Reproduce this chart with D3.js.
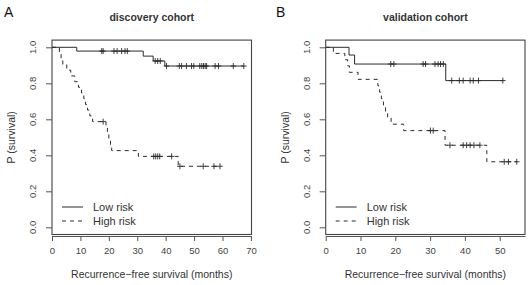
<!DOCTYPE html>
<html><head><meta charset="utf-8">
<script src="https://cdn.jsdelivr.net/npm/d3@7"></script>
<style>
body{margin:0;background:#fff;}
svg{display:block;font-family:"Liberation Sans",Arial,Helvetica,sans-serif;}
</style></head><body>
<svg id="chart" width="528" height="285"></svg>
<script>
// ---- data ----
const panelLetters = ["A", "B"];
const panelTitles = ["discovery cohort", "validation cohort"];
const xTicksA = [0, 10, 20, 30, 40, 50, 60, 70];
const xTicksB = [0, 10, 20, 30, 40, 50];
const yTicks = [0.0, 0.2, 0.4, 0.6, 0.8, 1.0];
const legendLabels = ["Low risk", "High risk"];

// discovery cohort
const timesLowA = [8.7, 32.1, 35.6, 39.7];
const survLowA  = [0.979, 0.951, 0.924, 0.896];
const censLowA  = [17.5, 18.0, 21.8, 22.9, 24.5, 25.7, 26.5, 36.3, 37.2, 38.1, 40.3, 44.8, 45.6, 47.3, 49.1, 49.9, 52.0, 52.7, 53.3, 53.9, 54.4, 57.4, 58.6, 63.8, 67.5];
const timesHighA = [2.6, 3.2, 3.8, 5.2, 6.6, 8.0, 9.3, 10.4, 11.2, 11.8, 12.5, 13.3, 14.3, 19.0, 19.5, 20.0, 20.6, 21.0, 30.4, 44.4];
const survHighA  = [0.968, 0.936, 0.905, 0.873, 0.841, 0.809, 0.778, 0.746, 0.714, 0.682, 0.651, 0.619, 0.587, 0.554, 0.521, 0.489, 0.457, 0.426, 0.394, 0.339];
const censHighA  = [18.0, 35.8, 36.5, 37.2, 37.9, 42.1, 45.0, 53.2, 57.0, 59.1];

// validation cohort
const timesLowB = [6.7, 8.3, 34.5];
const survLowB  = [0.957, 0.907, 0.815];
const censLowB  = [18.7, 19.6, 28.0, 28.7, 31.4, 32.3, 33.0, 33.8, 36.2, 38.4, 39.5, 41.5, 42.4, 43.9, 50.9];
const timesHighB = [2.2, 5.5, 6.3, 6.8, 9.3, 15.0, 15.5, 16.0, 16.6, 17.2, 17.8, 18.8, 22.4, 34.3, 46.3];
const survHighB  = [0.966, 0.931, 0.897, 0.861, 0.822, 0.786, 0.750, 0.715, 0.679, 0.644, 0.608, 0.573, 0.537, 0.456, 0.364];
const censHighB  = [30.1, 30.9, 35.7, 39.5, 40.5, 41.5, 42.6, 44.3, 51.3, 52.5, 54.9];

// ---- layout ----
const panels = [
  {letter: panelLetters[0], title: panelTitles[0], x0: 52, x1: 251.5, xmax: 70.2, ticks: xTicksA,
   low: {t: timesLowA, s: survLowA, c: censLowA}, high: {t: timesHighA, s: survHighA, c: censHighA}},
  {letter: panelLetters[1], title: panelTitles[1], x0: 325.7, x1: 525, xmax: 57.27, ticks: xTicksB,
   low: {t: timesLowB, s: survLowB, c: censLowB}, high: {t: timesHighB, s: survHighB, c: censHighB}}
];
const yTop = 40.1, yBot = 234.5;
const ink = "#2b2b2b";
const svg = d3.select("#chart");

function survAt(times, surv, t) {
  let v = 1;
  for (let i = 0; i < times.length; i++) if (times[i] <= t) v = surv[i];
  return v;
}

panels.forEach((p, pi) => {
  const x = d3.scaleLinear().domain([0, p.xmax]).range([p.x0, p.x1]);
  const y = d3.scaleLinear().domain([-0.04, 1.04]).range([yBot, yTop]);
  const g = svg.append("g");
  const cx = (p.x0 + p.x1) / 2;

  // panel letter and title
  g.append("text").attr("x", pi === 0 ? 4 : 276).attr("y", 16.8)
    .attr("font-size", 14).attr("fill", "#111").text(p.letter);
  g.append("text").attr("x", cx).attr("y", 20.5).attr("text-anchor", "middle")
    .attr("font-size", 10.5).attr("font-weight", "bold").attr("fill", "#333").text(p.title);

  // box
  g.append("rect").attr("x", p.x0).attr("y", yTop).attr("width", p.x1 - p.x0).attr("height", yBot - yTop)
    .attr("fill", "none").attr("stroke", "#444").attr("stroke-width", 1.1);

  // x axis
  const xa = g.append("g").attr("transform", `translate(0,${yBot + 1.5})`)
    .call(d3.axisBottom(x).tickValues(p.ticks).tickSize(5).tickSizeOuter(0).tickPadding(6).tickFormat(d3.format("d")));
  xa.select(".domain").attr("stroke", "#555");
  xa.selectAll(".tick line").attr("stroke", "#555");
  xa.selectAll("text").attr("font-size", 9.5).attr("fill", "#444").attr("font-family", "Liberation Sans, Arial, sans-serif");

  // y axis
  const ya = g.append("g").attr("transform", `translate(${p.x0},0)`)
    .call(d3.axisLeft(y).tickValues(yTicks).tickSize(6).tickSizeOuter(0).tickFormat(d3.format(".1f")));
  ya.select(".domain").remove();
  ya.selectAll(".tick line").attr("stroke", "#555");
  ya.selectAll("text").remove();
  yTicks.forEach(v => {
    g.append("text").attr("transform", `translate(${p.x0 - 16},${y(v)}) rotate(-90)`)
      .attr("text-anchor", "middle").attr("font-size", 9.5).attr("fill", "#444").text(v.toFixed(1));
  });

  // axis titles
  g.append("text").attr("x", cx).attr("y", 278).attr("text-anchor", "middle")
    .attr("font-size", 10.5).attr("fill", "#333").text("Recurrence\u2212free survival (months)");
  g.append("text").attr("transform", `translate(${p.x0 - 37},${(y(0) + y(1)) / 2}) rotate(-90)`)
    .attr("text-anchor", "middle").attr("font-size", 10.5).attr("fill", "#333").text("P (survival)");

  // curves
  [["low", null], ["high", "4,4"]].forEach(([key, dash]) => {
    const d = p[key];
    const tEnd = Math.max(d.t[d.t.length - 1], d.c[d.c.length - 1]);
    const pts = [[0, 1]].concat(d.t.map((t, i) => [t, d.s[i]]));
    pts.push([tEnd, survAt(d.t, d.s, tEnd)]);
    const line = d3.line().x(q => x(q[0])).y(q => y(q[1])).curve(d3.curveStepAfter);
    g.append("path").attr("d", line(pts)).attr("fill", "none").attr("stroke", ink)
      .attr("stroke-width", 1).attr("stroke-dasharray", dash);
    d.c.forEach(c => {
      const px = x(c), py = y(survAt(d.t, d.s, c));
      g.append("line").attr("x1", px).attr("x2", px).attr("y1", py - 3).attr("y2", py + 3)
        .attr("stroke", ink).attr("stroke-width", 0.9);
      g.append("line").attr("x1", px - 2.8).attr("x2", px + 2.8).attr("y1", py).attr("y2", py)
        .attr("stroke", ink).attr("stroke-width", 0.9);
    });
  });

  // legend
  const lx = p.x0 + 10;
  [[207, null], [221, "4,4"]].forEach(([ly, dash], i) => {
    g.append("line").attr("x1", lx).attr("x2", lx + 21).attr("y1", ly).attr("y2", ly)
      .attr("stroke", ink).attr("stroke-width", 1).attr("stroke-dasharray", dash);
    g.append("text").attr("x", lx + 31).attr("y", ly + 4).attr("font-size", 11)
      .attr("fill", "#333").text(legendLabels[i]);
  });
});
</script>
</body></html>
